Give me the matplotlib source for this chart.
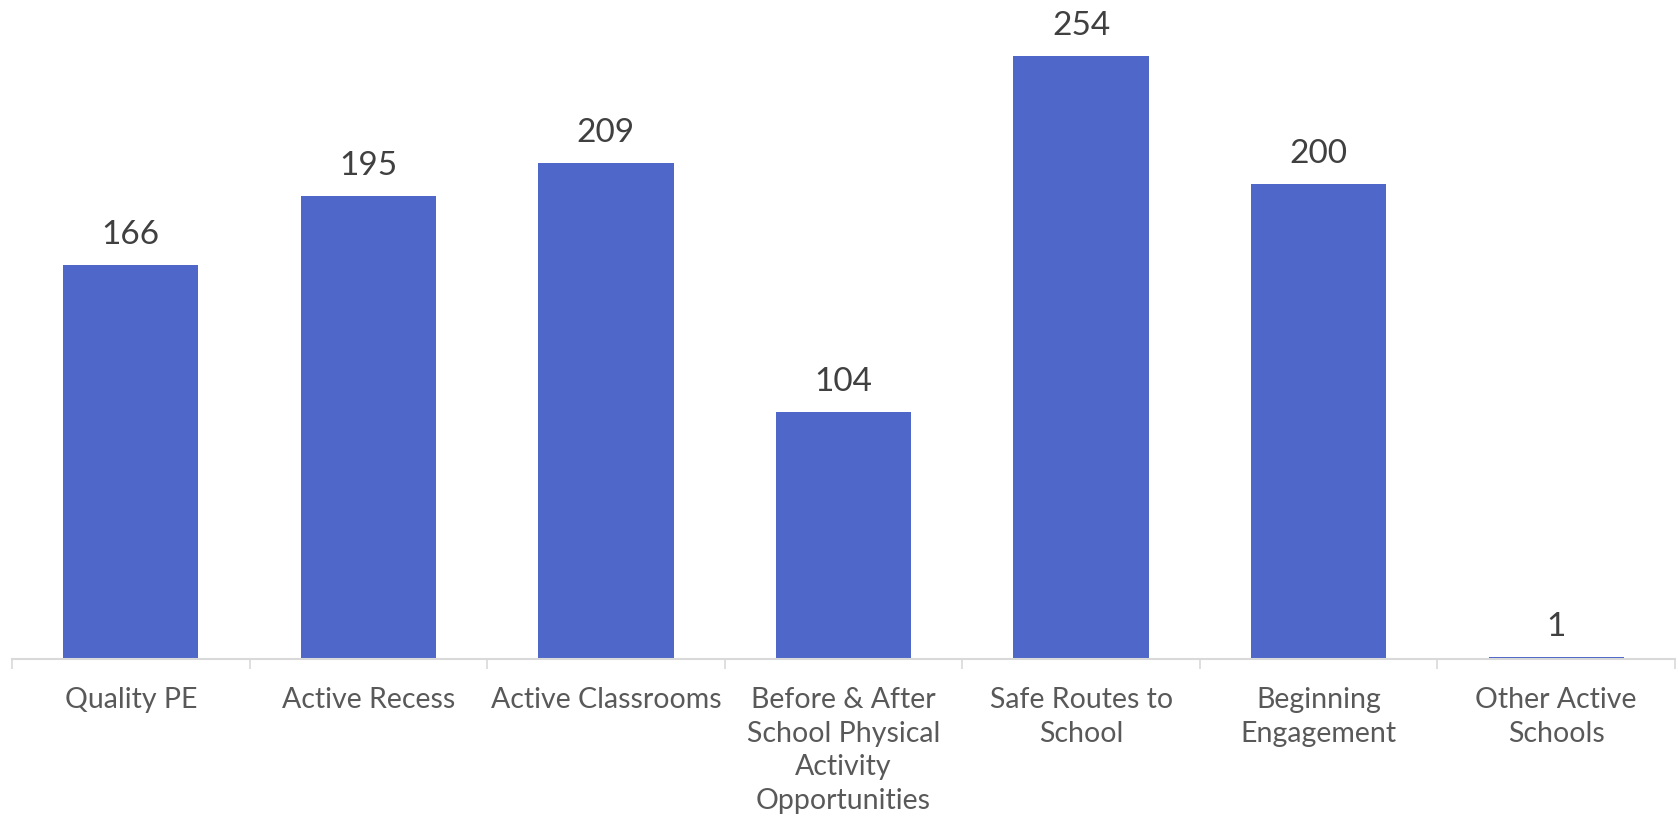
import matplotlib
matplotlib.use("Agg")
import matplotlib.pyplot as plt
import numpy as np

categories = [
    "Quality PE",
    "Active Recess",
    "Active Classrooms",
    "Before & After\nSchool Physical\nActivity\nOpportunities",
    "Safe Routes to\nSchool",
    "Beginning\nEngagement",
    "Other Active\nSchools",
]
counts = [166, 195, 209, 104, 254, 200, 1]

BAR_COLOR = "#4E67C8"
AXIS_GREY = "#D9D9D9"

plt.rcParams["font.family"] = ["Lato", "DejaVu Sans"]

fig = plt.figure(figsize=(16.78, 8.17), dpi=100)
ax = fig.add_axes([12 / 1678, 158 / 817, 1663 / 1678, 659 / 817])

x = np.arange(len(categories))
bars = ax.bar(x, counts, width=0.57, color=BAR_COLOR, zorder=2)

for b, v in zip(bars, counts):
    ax.annotate(f"{v}", (b.get_x() + b.get_width() / 2, b.get_height()),
                xytext=(0, 10.5), textcoords="offset points",
                ha="center", va="bottom", fontsize=24, color="#404040")

ax.set_xlim(-0.5, len(categories) - 0.5)
ax.set_ylim(0, 277.5)

ax.set_xticks(x)
ax.set_xticklabels(categories, fontsize=20.5, color="#595959", linespacing=1.37)
ax.tick_params(axis="x", which="major", length=0, pad=20)
ax.set_xticks(np.arange(-0.5, len(categories)), minor=True)
ax.tick_params(axis="x", which="minor", length=7, width=1.2, color=AXIS_GREY)
ax.set_yticks([])

for s in ["top", "left", "right"]:
    ax.spines[s].set_visible(False)
ax.spines["bottom"].set_color(AXIS_GREY)
ax.spines["bottom"].set_linewidth(1.5)

fig.savefig("out.png", dpi=100)
